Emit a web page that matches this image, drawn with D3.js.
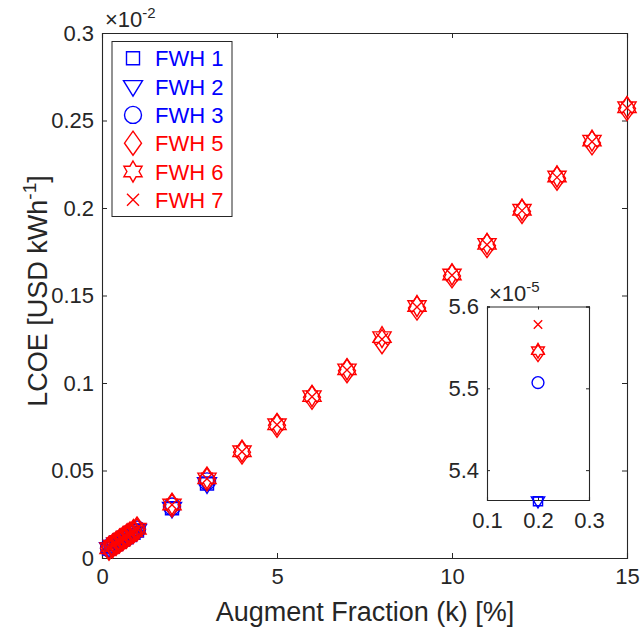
<!DOCTYPE html>
<html>
<head>
<meta charset="utf-8">
<script src="https://cdn.jsdelivr.net/npm/d3@7"></script>
<style>
  body { margin: 0; background: #fff; }
  text { font-family: "Liberation Sans", Arial, sans-serif; fill: #262626; }
</style>
</head>
<body>
<script>
// data (LCOE in units of 1e-2 USD/kWh)
const kVals = [0.2, 0.3, 0.4, 0.5, 0.6, 0.7, 0.8, 0.9, 1, 2, 3, 4, 5, 6, 7, 8, 9, 10, 11, 12, 13, 14, 15];
const kBlue = [0.2, 0.3, 0.4, 0.5, 0.6, 0.7, 0.8, 0.9, 1, 2, 3];
const fwh1 = [0.005362, 0.0066, 0.0079, 0.0092, 0.0105, 0.0118, 0.0131, 0.0144, 0.0157, 0.0284, 0.0426];
const fwh2 = [0.005362, 0.0066, 0.0079, 0.0092, 0.0105, 0.0118, 0.0131, 0.0144, 0.0157, 0.0283, 0.0424];
const fwh3 = [0.005507, 0.0068, 0.0082, 0.0095, 0.0109, 0.0122, 0.0136, 0.0150, 0.0163, 0.0294, 0.0438];
const fwh5 = [0.005543, 0.0069, 0.0083, 0.0097, 0.0111, 0.0124, 0.0138, 0.0152, 0.0166, 0.0302, 0.0451, 0.0605, 0.0758, 0.0918, 0.1070, 0.1236, 0.1428, 0.1612, 0.1785, 0.1980, 0.2170, 0.2372, 0.2568];
const fwh6 = [0.005546, 0.0070, 0.0084, 0.0098, 0.0112, 0.0125, 0.0139, 0.0153, 0.0167, 0.0306, 0.0455, 0.0610, 0.0764, 0.0925, 0.1078, 0.1262, 0.1440, 0.1620, 0.1795, 0.1990, 0.2180, 0.2385, 0.2576];
const fwh7 = [0.005578, 0.0070, 0.0084, 0.0098, 0.0111, 0.0125, 0.0139, 0.0153, 0.0167, 0.0304, 0.0453, 0.0607, 0.0761, 0.0921, 0.1074, 0.1250, 0.1434, 0.1616, 0.1790, 0.1985, 0.2175, 0.2378, 0.2572];

const seriesNames = ["FWH 1", "FWH 2", "FWH 3", "FWH 5", "FWH 6", "FWH 7"];
const seriesK = [kBlue, kBlue, kBlue, kVals, kVals, kVals];
const seriesVals = [fwh1, fwh2, fwh3, fwh5, fwh6, fwh7];
const seriesColors = ["#0000ff", "#0000ff", "#0000ff", "#ff0000", "#ff0000", "#ff0000"];
const seriesMarkers = ["square", "triangle", "circle", "diamond", "hexagram", "x"];

const xTicks = [0, 5, 10, 15];
const yTicks = [0, 0.05, 0.1, 0.15, 0.2, 0.25, 0.3];
const insetXTicks = [0.1, 0.2, 0.3];
const insetYTicks = [5.4, 5.5, 5.6];

const W = 641, H = 633;
const svg = d3.select("body").append("svg").attr("width", W).attr("height", H);

// marker paths centred on 0,0, scaled by s
function markerPath(type, s) {
  const f = v => (v * s).toFixed(2);
  switch (type) {
    case "square": return `M${f(-6.5)},${f(-6.5)}H${f(6.5)}V${f(6.5)}H${f(-6.5)}Z`;
    case "triangle": return `M${f(-9.5)},${f(-6)}H${f(9.5)}L0,${f(9.5)}Z`;
    case "circle": return `M${f(8.5)},0A${f(8.5)},${f(8.5)} 0 1,1 ${f(-8.5)},0A${f(8.5)},${f(8.5)} 0 1,1 ${f(8.5)},0Z`;
    case "diamond": return `M0,${f(-12)}L${f(8.5)},0L0,${f(12)}L${f(-8.5)},0Z`;
    case "hexagram": {
      let p = [];
      for (let i = 0; i < 12; i++) {
        const a = -Math.PI / 2 + i * Math.PI / 6;
        const r = i % 2 === 0 ? 10.5 : 6.1;
        p.push(f(r * Math.cos(a)) + "," + f(r * Math.sin(a)));
      }
      return "M" + p.join("L") + "Z";
    }
    case "x": return `M${f(-6)},${f(-6)}L${f(6)},${f(6)}M${f(-6)},${f(6)}L${f(6)},${f(-6)}`;
  }
}

function drawFrame(g, x, y, xt, yt, tickLen, padX, padY, fmtX, fmtY) {
  const [x0, x1] = x.range(), [y0, y1] = y.range();
  g.append("g").attr("transform", "translate(0," + y0 + ")")
    .call(d3.axisBottom(x).tickValues(xt).tickSize(-tickLen).tickPadding(padX).tickFormat(fmtX));
  g.append("g").attr("transform", "translate(0," + y1 + ")")
    .call(d3.axisTop(x).tickValues(xt).tickSize(-tickLen).tickFormat(""));
  g.append("g").attr("transform", "translate(" + x0 + ",0)")
    .call(d3.axisLeft(y).tickValues(yt).tickSize(-tickLen).tickPadding(padY).tickFormat(fmtY));
  g.append("g").attr("transform", "translate(" + x1 + ",0)")
    .call(d3.axisRight(y).tickValues(yt).tickSize(-tickLen).tickFormat(""));
  g.selectAll(".domain").attr("stroke", "#262626").attr("stroke-width", 1.1);
  g.selectAll(".tick line").attr("stroke", "#262626");
  g.selectAll(".tick text").style("font-size", "22px").attr("fill", "#262626");
}

function drawMarkers(g, x, y, pts, s, scale) {
  g.append("g").selectAll("path").data(pts).enter()
    .append("path")
    .attr("d", markerPath(seriesMarkers[s], scale))
    .attr("transform", d => "translate(" + x(d[0]) + "," + y(d[1]) + ")")
    .attr("fill", "none").attr("stroke", seriesColors[s]).attr("stroke-width", 1.4);
}

// ---- main axes
const x = d3.scaleLinear().domain([0, 15]).range([102, 627]);
const y = d3.scaleLinear().domain([0, 0.3]).range([558, 33]);

const main = svg.append("g");
drawFrame(main, x, y, xTicks, yTicks, 5, 10, 8, d3.format("d"), d => d === 0 ? "0" : String(+d.toFixed(2)));

svg.append("text").attr("x", 105).attr("y", 27).style("font-size", "22px")
  .text("×10").append("tspan").attr("dy", -9).style("font-size", "15px").text("-2");

seriesVals.forEach((vals, s) => {
  drawMarkers(main, x, y, seriesK[s].map((k, i) => [k, vals[i]]), s, 1);
});

// axis labels
svg.append("text").attr("x", 365).attr("y", 621).attr("text-anchor", "middle")
  .style("font-size", "27px").text("Augment Fraction (k) [%]");
const yl = svg.append("text").attr("transform", "translate(47,291) rotate(-90)")
  .attr("text-anchor", "middle").style("font-size", "27px");
yl.append("tspan").text("LCOE [USD kWh");
yl.append("tspan").attr("dy", -11).style("font-size", "19px").text("-1");
yl.append("tspan").attr("dy", 11).text("]");

// ---- legend
const leg = svg.append("g");
leg.append("rect").attr("x", 112).attr("y", 41.5).attr("width", 120).attr("height", 175)
  .attr("fill", "#fff").attr("stroke", "#262626").attr("stroke-width", 1);
seriesNames.forEach((n, i) => {
  const cy = 58.3 + i * 28.3;
  leg.append("path").attr("d", markerPath(seriesMarkers[i], 1))
    .attr("transform", "translate(133," + cy + ")")
    .attr("fill", "none").attr("stroke", seriesColors[i]).attr("stroke-width", 1.4);
  leg.append("text").attr("x", 155).attr("y", cy + 8).style("font-size", "22px")
    .style("fill", seriesColors[i]).text(n);
});

// ---- inset (values in 1e-5)
const xi = d3.scaleLinear().domain([0.1, 0.3]).range([487, 589]);
const yi = d3.scaleLinear().domain([5.3635, 5.6]).range([500, 306.5]);
const inset = svg.append("g");
inset.append("rect").attr("x", 487).attr("y", 306.5).attr("width", 102).attr("height", 193.5).attr("fill", "#fff");
drawFrame(inset, xi, yi, insetXTicks, insetYTicks, 3, 12, 8, d3.format(".1f"), d3.format(".1f"));

svg.append("text").attr("x", 489).attr("y", 301).style("font-size", "22px")
  .text("×10").append("tspan").attr("dy", -9).style("font-size", "15px").text("-5");

seriesVals.forEach((vals, s) => {
  const pts = seriesK[s].map((k, i) => [k, vals[i] * 1000]).filter(d => d[0] >= 0.1 && d[0] <= 0.3);
  drawMarkers(inset, xi, yi, pts, s, 0.7);
});
</script>
</body>
</html>
